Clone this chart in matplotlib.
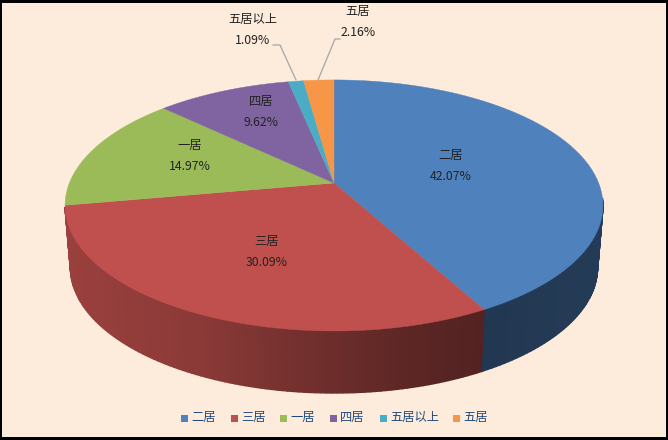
import numpy as np
import matplotlib
matplotlib.use('Agg')
import matplotlib.pyplot as plt
from matplotlib.patches import Polygon, Rectangle
from matplotlib.colors import to_rgb

plt.rcParams['font.family'] = ['Noto Sans CJK SC', 'DejaVu Sans']

names = ['二居', '三居', '一居', '四居', '五居以上', '五居']
shares = [42.07, 30.09, 14.97, 9.62, 1.09, 2.16]
colors = ['#4F81BD', '#C0504D', '#9BBB59', '#8064A2', '#4BACC6', '#F79646']

W, H = 668, 440
CX, CY = 334, 183
AX, BY, K = 264.6, 121.5, 0.179
DEPTH, SHRINK = 62, 0.98


def top_xy(t):
    # t is degrees clockwise from 12 o'clock
    r = np.radians(t)
    w = 1 + K * np.cos(r)
    return CX + AX * np.sin(r) / w, CY - BY * np.cos(r) / w


def bot_xy(t):
    x, y = top_xy(t)
    return CX + (x - CX) * SHRINK, y + DEPTH


def side_color(base, x):
    # wall gets darker from left to right
    f = np.interp(x, [70, 200, 300, 400, 480, 600], [0.80, 0.72, 0.60, 0.49, 0.43, 0.46])
    return tuple(c * f for c in to_rgb(base))


fig = plt.figure(figsize=(W / 100, H / 100), dpi=100, facecolor='black')
ax = fig.add_axes([0, 0, 1, 1])
ax.set_xlim(0, W)
ax.set_ylim(H, 0)
ax.axis('off')
ax.add_patch(Rectangle((2, 3), W - 4, H - 6, fc='#FDEBDC', ec='none'))

ends = np.cumsum(shares) / sum(shares) * 360
starts = np.r_[0, ends[:-1]]

# side wall, only the front half shows
for s, e, c in zip(starts, ends, colors):
    a, b = max(s, 97), min(e, 259)
    if a >= b:
        continue
    ts = np.arange(a, b + 1, 1.0)
    ts[-1] = b
    for t0, t1 in zip(ts[:-1], ts[1:]):
        x0, y0 = top_xy(t0)
        x1, y1 = top_xy(t1)
        x2, y2 = bot_xy(t1)
        x3, y3 = bot_xy(t0)
        col = side_color(c, (x0 + x1) / 2)
        ax.add_patch(Polygon([(x0, y0), (x1, y1), (x2, y2), (x3, y3)], fc=col, ec=col, lw=1.0))

# top face
for s, e, c in zip(starts, ends, colors):
    ts = np.linspace(s, e, 120)
    x, y = top_xy(ts)
    pts = np.r_[[(CX, CY)], np.c_[x, y]]
    ax.add_patch(Polygon(pts, fc=c, ec=c, lw=0.3))

# labels
label_xy = [(451, 165.5), (266.5, 252.5), (190, 156), (261, 111.5), (253, 30.5), (358, 22.5)]
for n, v, (lx, ly) in zip(names, shares, label_xy):
    ax.text(lx, ly - 10.5, n, ha='center', va='center', fontsize=8.8, color='#222222')
    ax.text(lx, ly + 10.5, '%.2f%%' % v, ha='center', va='center', fontsize=8.8, color='#222222')

# leader lines
ax.plot([273, 280, 296], [45, 45, 80], color='#A6A6A6', lw=0.9)
ax.plot([340, 335, 318], [39, 39, 80], color='#A6A6A6', lw=0.9)

# legend
leg_x = [181, 231, 280, 330, 380, 453]
for n, c, x in zip(names, colors, leg_x):
    ax.add_patch(Rectangle((x, 415), 7, 7, fc=c, ec='none'))
    ax.text(x + 10, 418, n, ha='left', va='center', fontsize=8.8, color='#1F497D')

fig.savefig('out.png', dpi=100, facecolor='black')
